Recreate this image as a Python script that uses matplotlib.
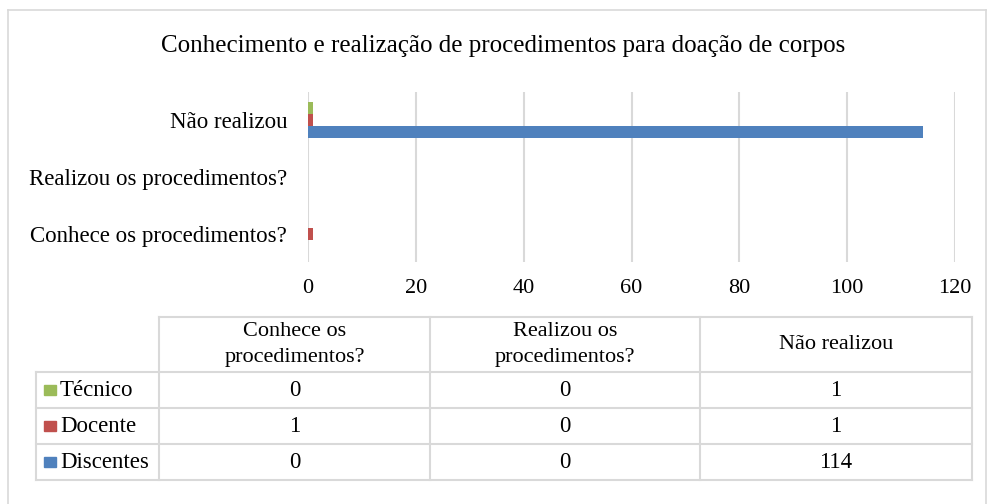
import matplotlib.pyplot as plt
from matplotlib.patches import Rectangle
from matplotlib.lines import Line2D

plt.rcParams['font.family'] = ['Liberation Serif', 'DejaVu Serif']

title = 'Conhecimento e realização de procedimentos para doação de corpos'
categories = ['Conhece os procedimentos?', 'Realizou os procedimentos?', 'Não realizou']
header_labels = ['Conhece os\nprocedimentos?', 'Realizou os\nprocedimentos?', 'Não realizou']
series_names = ['Discentes', 'Docente', 'Técnico']
discentes = [0, 0, 114]
docente = [1, 0, 1]
tecnico = [0, 0, 1]
colors = ['#4f81bd', '#c0504d', '#9bbb59']

W, H = 988, 504
fig = plt.figure(figsize=(W / 100, H / 100), dpi=100)


def fx(px):
    return px / W


def fy(py):
    return 1 - py / H


# outer chart border
for xs, ys in [([8, 8], [10, 504]), ([8, 986], [10, 10]), ([986, 986], [10, 504])]:
    fig.add_artist(Line2D([fx(x) for x in xs], [fy(y) for y in ys], color='#d9d9d9', lw=1.2))

fig.text(fx(503), fy(46), title, ha='center', va='center', fontsize=18)

ax = fig.add_axes([fx(308), fy(262), fx(955 - 308), (262 - 92) / H])
values = [discentes, docente, tecnico]
offsets = [-0.21, 0, 0.21]
for vals, off, col in zip(values, offsets, colors):
    ax.barh([i + off for i in range(len(categories))], vals, height=0.21, color=col, zorder=3)

ax.set_xlim(0, 120)
ax.set_ylim(-0.5, 2.5)
ax.set_xticks(range(0, 121, 20))
ax.set_yticks(range(len(categories)))
ax.set_yticklabels(categories, fontsize=16.5)
ax.tick_params(axis='x', labelsize=16, length=0, pad=12)
ax.tick_params(axis='y', length=0, pad=15)
ax.grid(axis='x', color='#d9d9d9', lw=1.5, zorder=0)
for s in ax.spines.values():
    s.set_visible(False)

# data table
col_x = [159, 430, 700, 972]
row_y = [317, 372, 408, 444, 480]
grid_c = '#d9d9d9'


def line(xs, ys):
    fig.add_artist(Line2D([fx(x) for x in xs], [fy(y) for y in ys], color=grid_c, lw=1.5))


line([col_x[0], col_x[-1]], [row_y[0], row_y[0]])
for y in row_y[1:]:
    line([36, col_x[-1]], [y, y])
for x in col_x:
    line([x, x], [row_y[0], row_y[-1]])
line([36, 36], [row_y[1], row_y[-1]])

for j, lab in enumerate(header_labels):
    fig.text(fx((col_x[j] + col_x[j + 1]) / 2), fy((row_y[0] + row_y[1]) / 2), lab,
             ha='center', va='center', fontsize=16, linespacing=1.5)

table_rows = list(zip(series_names, values, colors))[::-1]
for r, (name, vals, col) in enumerate(table_rows):
    yc = (row_y[r + 1] + row_y[r + 2]) / 2
    fig.add_artist(Rectangle((fx(44), fy(yc + 5)), fx(12), 10 / H, color=col))
    fig.text(fx(60), fy(yc), name, ha='left', va='center', fontsize=16.5)
    for j, v in enumerate(vals):
        fig.text(fx((col_x[j] + col_x[j + 1]) / 2), fy(yc), str(v),
                 ha='center', va='center', fontsize=16.5)

fig.savefig('out.png', dpi=100)
